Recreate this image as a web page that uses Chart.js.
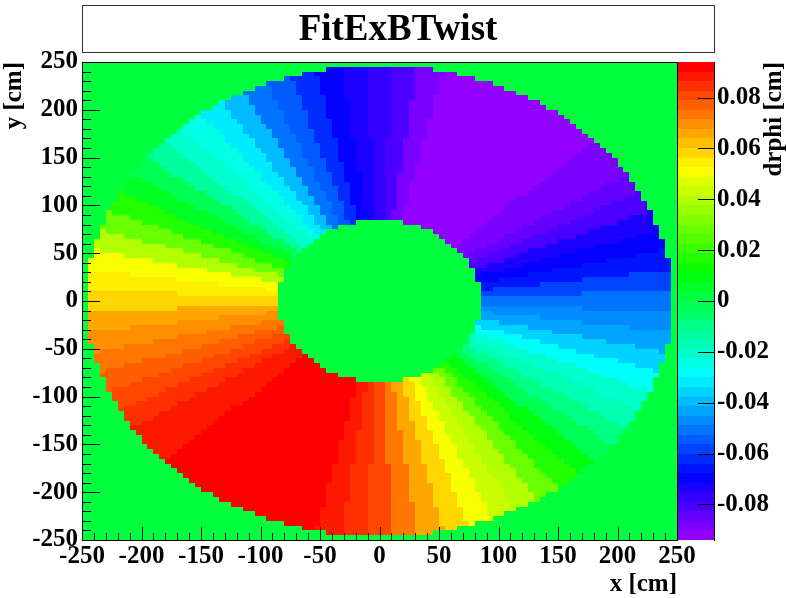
<!DOCTYPE html>
<html>
<head>
<meta charset="utf-8">
<script src="https://cdn.jsdelivr.net/npm/chart.js@4.4.0/dist/chart.umd.min.js"></script>
<style>
  html, body { margin: 0; padding: 0; background: #fff; }
</style>
</head>
<body>
<canvas id="mapa" width="786" height="598"></canvas>
<script>
// drphi [cm] no anel do TPC, por azimute (0, 5, 10 ... 355 graus)
const passoAngulo = 5;
const drphi = [
  -0.051, -0.058, -0.064, -0.069, -0.074, -0.080, -0.085, -0.088, -0.090, -0.092, -0.093, -0.094,
  -0.094, -0.094, -0.093, -0.091, -0.087, -0.082, -0.078, -0.074, -0.069, -0.063, -0.056, -0.049,
  -0.041, -0.032, -0.025, -0.019, -0.012, -0.002, 0.007, 0.016, 0.028, 0.039, 0.049, 0.056,
  0.060, 0.064, 0.068, 0.072, 0.076, 0.080, 0.084, 0.087, 0.089, 0.091, 0.093, 0.094,
  0.094, 0.094, 0.093, 0.091, 0.088, 0.085, 0.080, 0.074, 0.066, 0.058, 0.051, 0.045,
  0.038, 0.028, 0.016, 0.008, -0.002, -0.010, -0.016, -0.022, -0.028, -0.036, -0.043, -0.047
];

// limites do anel [cm] e bins do histograma
const raioInterno = 84.8;
const raioExterno = 246.6;
const limiteEixo = 250;
const larguraBin = 5;

// marcas dos eixos
const ticksX = [-250, -200, -150, -100, -50, 0, 50, 100, 150, 200, 250];
const ticksY = [-250, -200, -150, -100, -50, 0, 50, 100, 150, 200, 250];
const ticksZ = [-0.08, -0.06, -0.04, -0.02, 0, 0.02, 0.04, 0.06, 0.08];

const titulo = "FitExBTwist";
const tituloX = "x [cm]";
const tituloY = "y [cm]";
const tituloZ = "drphi [cm]";

const zMin = Math.min(...drphi);
const zMax = Math.max(...drphi);
const nCores = 50;
const fonte = "bold 25px 'Liberation Serif'";

// Paleta "pretty" (violeta -> vermelho), 50 cores
const paleta = [];
for (let i = 0; i < nCores; i++) {
  const hue = 280 - (i + 1) * (280 / nCores);
  paleta.push(`hsl(${hue}, 100%, 50%)`);
}

function corDoValor(v) {
  let idx = Math.floor(0.01 + (v - zMin) * nCores / (zMax - zMin));
  if (idx < 0) idx = 0;
  if (idx > nCores - 1) idx = nCores - 1;
  return paleta[idx];
}

// Valor de um bin a partir do centro dele
function valorDoBin(xc, yc) {
  const r = Math.hypot(xc, yc);
  if (r < raioInterno || r > raioExterno) return 0;
  let ang = Math.atan2(yc, xc) * 180 / Math.PI;
  if (ang < 0) ang += 360;
  const k = Math.round(ang / passoAngulo) % drphi.length;
  return drphi[k];
}

// Desenha o mapa de cores (bins) e a barra de cores
const mapaCores = {
  id: "mapaCores",
  beforeDatasetsDraw(chart) {
    const { ctx, chartArea: area, scales } = chart;
    const sx = scales.x, sy = scales.y, sz = scales.z;

    ctx.save();
    ctx.beginPath();
    ctx.rect(area.left, area.top, area.right - area.left, area.bottom - area.top);
    ctx.clip();
    for (let x0 = -limiteEixo; x0 < limiteEixo; x0 += larguraBin) {
      const px0 = Math.round(sx.getPixelForValue(x0));
      const px1 = Math.round(sx.getPixelForValue(x0 + larguraBin));
      for (let y0 = -limiteEixo; y0 < limiteEixo; y0 += larguraBin) {
        const py0 = Math.round(sy.getPixelForValue(y0));
        const py1 = Math.round(sy.getPixelForValue(y0 + larguraBin));
        ctx.fillStyle = corDoValor(valorDoBin(x0 + larguraBin / 2, y0 + larguraBin / 2));
        ctx.fillRect(px0, py1, px1 - px0, py0 - py1);
      }
    }
    ctx.restore();

    // barra de cores
    const bx0 = area.right + 1;
    const bx1 = area.right + 37;
    const passo = (zMax - zMin) / nCores;
    for (let i = 0; i < nCores; i++) {
      const pyA = Math.round(sz.getPixelForValue(zMin + i * passo));
      const pyB = Math.round(sz.getPixelForValue(zMin + (i + 1) * passo));
      ctx.fillStyle = paleta[i];
      ctx.fillRect(bx0, pyB, bx1 - bx0, pyA - pyB);
    }
  }
};

// Moldura, marcas, rótulos e títulos no estilo ROOT
const eixosRoot = {
  id: "eixosRoot",
  afterDraw(chart) {
    const { ctx, chartArea: area, scales } = chart;
    const sx = scales.x, sy = scales.y, sz = scales.z;

    ctx.save();
    ctx.strokeStyle = "#000";
    ctx.lineWidth = 1;
    ctx.strokeRect(area.left + 0.5, area.top + 0.5, area.right - area.left, area.bottom - area.top);

    // marcas menores a cada 10 cm, maiores a cada 50 cm
    ctx.beginPath();
    for (let v = -limiteEixo; v <= limiteEixo; v += 10) {
      const maior = v % 50 === 0;
      const px = Math.round(sx.getPixelForValue(v)) + 0.5;
      ctx.moveTo(px, area.bottom);
      ctx.lineTo(px, area.bottom - (maior ? 13 : 7));
      const py = Math.round(sy.getPixelForValue(v)) + 0.5;
      ctx.moveTo(area.left, py);
      ctx.lineTo(area.left + (maior ? 18 : 9), py);
    }
    ctx.stroke();

    // eixo da barra de cores
    const bx1 = area.right + 37;
    ctx.beginPath();
    ctx.moveTo(bx1 + 0.5, area.top);
    ctx.lineTo(bx1 + 0.5, area.bottom + 1);
    ticksZ.forEach(v => {
      const py = Math.round(sz.getPixelForValue(v)) + 0.5;
      ctx.moveTo(bx1, py);
      ctx.lineTo(bx1 - 16, py);
    });
    ctx.stroke();

    ctx.fillStyle = "#000";
    ctx.font = fonte;

    ctx.textAlign = "center";
    ctx.textBaseline = "middle";
    ticksX.forEach(v => ctx.fillText(String(v), sx.getPixelForValue(v), area.bottom + 17));

    ctx.textAlign = "right";
    ticksY.forEach(v => ctx.fillText(String(v), area.left - 4, sy.getPixelForValue(v)));

    ctx.textAlign = "left";
    ticksZ.forEach(v => ctx.fillText(v === 0 ? "0" : v.toFixed(2), bx1 + 3, sz.getPixelForValue(v)));

    // títulos dos eixos
    ctx.textAlign = "right";
    ctx.fillText(tituloX, area.right, area.bottom + 45);

    ctx.save();
    ctx.translate(15, area.top);
    ctx.rotate(-Math.PI / 2);
    ctx.fillText(tituloY, 0, 0);
    ctx.restore();

    ctx.save();
    ctx.translate(775, area.top);
    ctx.rotate(-Math.PI / 2);
    ctx.fillText(tituloZ, 0, 0);
    ctx.restore();

    // caixa do título
    ctx.fillStyle = "#fff";
    ctx.fillRect(82, 5, 632, 47);
    ctx.strokeStyle = "#333";
    ctx.strokeRect(82.5, 5.5, 632, 47);
    ctx.fillStyle = "#000";
    ctx.font = "bold 37px 'Liberation Serif'";
    ctx.textAlign = "center";
    ctx.fillText(titulo, 398, 30);
    ctx.restore();
  }
};

const ctx = document.getElementById("mapa").getContext("2d");
new Chart(ctx, {
  type: "scatter",
  data: { datasets: [] },
  options: {
    responsive: false,
    animation: false,
    devicePixelRatio: 1,
    layout: { padding: { left: 82, top: 62, right: 109, bottom: 58 } },
    plugins: { legend: { display: false }, tooltip: { enabled: false } },
    scales: {
      x: { type: "linear", min: -limiteEixo, max: limiteEixo, display: false },
      y: { type: "linear", min: -limiteEixo, max: limiteEixo, display: false },
      z: { type: "linear", axis: "y", position: "right", min: zMin, max: zMax, display: false }
    }
  },
  plugins: [mapaCores, eixosRoot]
});
</script>
</body>
</html>
